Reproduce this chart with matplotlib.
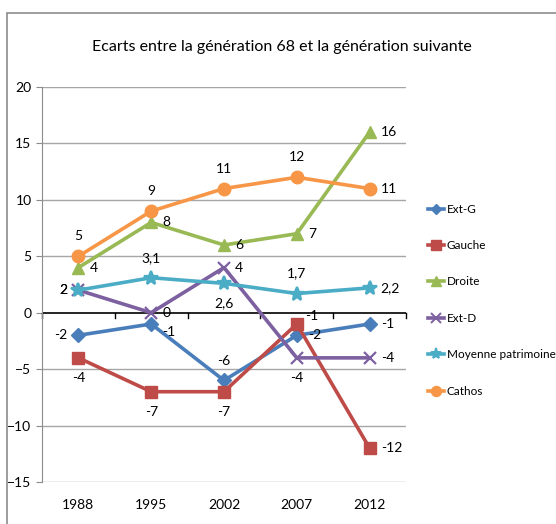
import numpy as np
import matplotlib
matplotlib.use('Agg')
import matplotlib.pyplot as plt
from matplotlib.lines import Line2D
from matplotlib.patches import Rectangle

plt.rcParams['font.family'] = ['Lato', 'DejaVu Sans']

# data
years = ['1988', '1995', '2002', '2007', '2012']
ext_g = [-2, -1, -6, -2, -1]
gauche = [-4, -7, -7, -1, -12]
droite = [4, 8, 6, 7, 16]
ext_d = [2, 0, 4, -4, -4]
moyenne = [2, 3.1, 2.6, 1.7, 2.2]
cathos = [5, 9, 11, 12, 11]

names = ['Ext-G', 'Gauche', 'Droite', 'Ext-D', 'Moyenne patrimoine', 'Cathos']
series = [ext_g, gauche, droite, ext_d, moyenne, cathos]
colors = ['#4A7EBB', '#BE4B48', '#98B954', '#7D60A0', '#4BACC6', '#F79646']
markers = ['D', 's', '^', 'x', '*', 'o']
msizes = [7, 9, 9, 9, 10, 9]

# label placement per point: l=left, r=right, a=above, b=below
places = [
    ['l', 'br', 'a', 'r', 'r'],
    ['b', 'b', 'b', 'ar', 'r'],
    ['r', 'r', 'r', 'r', 'r'],
    ['l', 'r', 'r', 'b', 'r'],
    ['l', 'a', 'b', 'a', 'r'],
    ['a', 'a', 'a', 'a', 'r'],
]
offs = {'l': (-8, 0, 'right', 'center'), 'r': (8, 0, 'left', 'center'),
        'a': (0, 10, 'center', 'bottom'), 'b': (0, -10, 'center', 'top'),
        'br': (8, -6, 'left', 'center'), 'ar': (6, 6, 'left', 'center')}

fig = plt.figure(figsize=(5.56, 5.24), dpi=100)
# chart frame
fig.patches.append(Rectangle((7 / 556, -0.1), 1.1, 1 - 13 / 524 + 0.1, transform=fig.transFigure,
                             fill=False, edgecolor='#8C8C8C', lw=1.2))
ax = fig.add_axes([42 / 556, 1 - 482 / 524, 364 / 556, 395 / 524])

x = np.arange(len(years))
for vals, nm, c, m, ms, pl in zip(series, names, colors, markers, msizes, places):
    mew = 1.6 if m in ('x', '*') else 1
    ax.plot(x, vals, color=c, lw=2.6, marker=m, ms=ms, mew=mew, mec=c, label=nm, zorder=3)
    for xi, v, p in zip(x, vals, pl):
        dx, dy, ha, va = offs[p]
        txt = ('%g' % v).replace('.', ',')
        ax.annotate(txt, (xi, v), xytext=(dx, dy), textcoords='offset points',
                    ha=ha, va=va, fontsize=10, zorder=4)

ax.set_xlim(-0.5, 4.5)
ax.set_ylim(-15, 20)
ax.set_yticks(range(-15, 21, 5))
ax.set_xticks(x)
ax.set_xticklabels(years)
ax.tick_params(axis='x', length=0, pad=12, labelsize=10)
ax.tick_params(axis='y', length=4, color='#8C8C8C', labelsize=10)
for yv in range(-15, 21, 5):
    if yv != 0:
        ax.axhline(yv, color='#A6A6A6', lw=1, zorder=1)
ax.axhline(0, color='black', lw=1.2, zorder=2)
for b in np.arange(-0.5, 4.6, 1):
    ax.plot([b, b], [0, -0.5], color='black', lw=1, zorder=2, clip_on=False)
for s in ['top', 'right', 'bottom']:
    ax.spines[s].set_visible(False)
ax.spines['left'].set_color('#8C8C8C')

fig.text(282 / 556, 1 - 47 / 524, 'Ecarts entre la génération 68 et la génération suivante',
         ha='center', va='center', fontsize=11.5)

handles = [Line2D([], [], color=c, lw=2.6, marker=m, ms=ms * 0.8, mew=1.4 if m in ('x', '*') else 1, mec=c)
           for c, m, ms in zip(colors, markers, msizes)]
fig.legend(handles, names, loc='upper left', bbox_to_anchor=(423 / 556, 1 - 199 / 524),
           frameon=False, fontsize=8.5, handlelength=1.4, handletextpad=0.2,
           labelspacing=2.15, borderaxespad=0)

fig.savefig('out.png', dpi=100)
